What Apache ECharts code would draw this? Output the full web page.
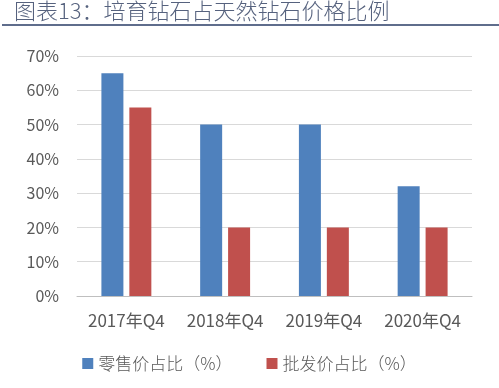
<!DOCTYPE html>
<html>
<head>
<meta charset="utf-8">
<script src="https://cdn.jsdelivr.net/npm/echarts@6/dist/echarts.min.js"></script>
<style>
html,body{margin:0;padding:0;background:#fff;}
#c{width:499px;height:388px;}
</style>
</head>
<body>
<div id="c"></div>
<script>
const titleText = '图表13：培育钻石占天然钻石价格比例';
const categories = ['2017年Q4', '2018年Q4', '2019年Q4', '2020年Q4'];
const retailName = '零售价占比（%）';
const wholesaleName = '批发价占比（%）';
const retailValues = [65, 50, 50, 32];
const wholesaleValues = [55, 20, 20, 20];
const yTicks = [0, 10, 20, 30, 40, 50, 60, 70];

const fontFam = '"Noto Sans CJK SC", "Noto Sans", sans-serif';
const chart = echarts.init(document.getElementById('c'), null, {renderer: 'canvas'});
chart.setOption({
  animation: false,
  backgroundColor: '#fff',
  graphic: [
    {type: 'text', left: 14, top: 0, style: {text: titleText, font: '300 22px ' + fontFam, fill: '#56627e'}},
    {type: 'rect', shape: {x: 2, y: 24, width: 497, height: 2}, style: {fill: '#5f6d8c'}}
  ],
  grid: {left: 77, right: 27, top: 56, bottom: 92},
  legend: {
    bottom: 11, left: 'center',
    itemWidth: 11, itemHeight: 11, itemGap: 34,
    icon: 'rect',
    textStyle: {color: '#595959', fontSize: 17, fontFamily: fontFam, fontWeight: 300},
    data: [retailName, wholesaleName]
  },
  xAxis: {
    type: 'category',
    data: categories,
    axisLine: {lineStyle: {color: '#bfbfbf', width: 1}},
    axisTick: {show: false},
    axisLabel: {color: '#595959', fontSize: 17, fontFamily: fontFam, margin: 16, interval: 0}
  },
  yAxis: {
    type: 'value',
    min: yTicks[0], max: yTicks[yTicks.length - 1], interval: 10,
    axisLine: {show: false},
    axisTick: {show: false},
    splitLine: {lineStyle: {color: '#d9d9d9', width: 1}},
    axisLabel: {color: '#595959', fontSize: 16, fontFamily: fontFam, margin: 18, formatter: '{value}%'}
  },
  series: [
    {name: retailName, type: 'bar', data: retailValues, barWidth: 22, barGap: '27%', itemStyle: {color: '#4f81bd'}},
    {name: wholesaleName, type: 'bar', data: wholesaleValues, barWidth: 22, itemStyle: {color: '#c0504d'}}
  ]
});
</script>
</body>
</html>
